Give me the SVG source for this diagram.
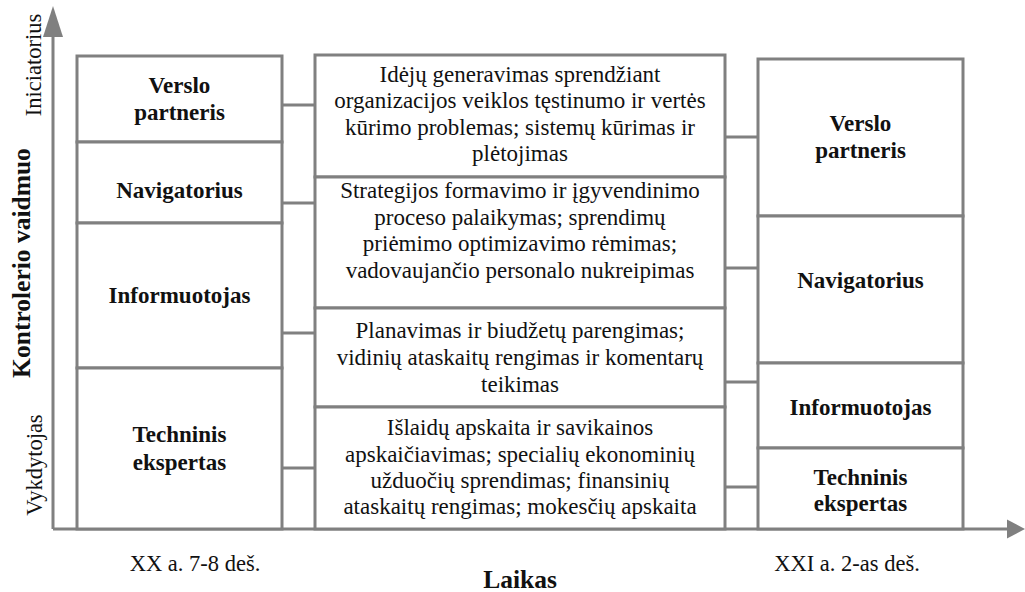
<svg xmlns="http://www.w3.org/2000/svg" width="1025" height="592" viewBox="0 0 1025 592">
  <style>
    .cell { fill: #ffffff; stroke: #808080; stroke-width: 3; }
    .link { stroke: #808080; stroke-width: 3; fill: none; }
    .axis { stroke: #808080; stroke-width: 3; fill: none; }
    .head { fill: #808080; stroke: none; }
    .role { font-family: "Liberation Serif", "Times New Roman", serif; font-size: 23px; font-weight: bold; fill: #111; text-anchor: middle; }
    .desc { font-family: "Liberation Serif", "Times New Roman", serif; font-size: 23px; fill: #111; text-anchor: middle; }
    .lab { font-family: "Liberation Serif", "Times New Roman", serif; font-size: 22.5px; fill: #111; text-anchor: middle; }
    .title { font-family: "Liberation Serif", "Times New Roman", serif; font-size: 25.5px; font-weight: bold; fill: #111; text-anchor: middle; }
  </style>

  <!-- axes -->
  <g id="axes">
    <line class="axis" x1="53" y1="529" x2="53" y2="34"/>
    <polygon class="head" points="53,6 43,37 63,37"/>
    <line class="axis" x1="53" y1="529" x2="1009" y2="529"/>
    <polygon class="head" points="1025,529 1007,519.5 1007,538.5"/>
  </g>

  <!-- connectors between columns -->
  <g id="connectors">
    <line class="link" x1="282" y1="105" x2="315" y2="105"/>
    <line class="link" x1="282" y1="203" x2="315" y2="203"/>
    <line class="link" x1="282" y1="333" x2="315" y2="333"/>
    <line class="link" x1="282" y1="468" x2="315" y2="468"/>
    <line class="link" x1="725" y1="137" x2="758" y2="137"/>
    <line class="link" x1="725" y1="268" x2="758" y2="268"/>
    <line class="link" x1="725" y1="382" x2="758" y2="382"/>
    <line class="link" x1="725" y1="487" x2="758" y2="487"/>
  </g>

  <!-- left column: XX a. 7-8 deš. -->
  <g id="left-verslo-partneris">
    <rect class="cell" x="77" y="56" width="205" height="86"/>
    <text class="role" x="179.5" y="93">Verslo</text>
    <text class="role" x="179.5" y="120">partneris</text>
  </g>
  <g id="left-navigatorius">
    <rect class="cell" x="77" y="142" width="205" height="81"/>
    <text class="role" x="179.5" y="198">Navigatorius</text>
  </g>
  <g id="left-informuotojas">
    <rect class="cell" x="77" y="223" width="205" height="145"/>
    <text class="role" x="179.5" y="303">Informuotojas</text>
  </g>
  <g id="left-techninis-ekspertas">
    <rect class="cell" x="77" y="368" width="205" height="161"/>
    <text class="role" x="179.5" y="442">Techninis</text>
    <text class="role" x="179.5" y="470">ekspertas</text>
  </g>

  <!-- middle column: functions -->
  <g id="func-ideju-generavimas">
    <rect class="cell" x="315" y="55" width="410" height="122"/>
    <text class="desc" x="520" y="82">Idėjų generavimas sprendžiant</text>
    <text class="desc" x="520" y="108">organizacijos veiklos tęstinumo ir vertės</text>
    <text class="desc" x="520" y="135">kūrimo problemas; sistemų kūrimas ir</text>
    <text class="desc" x="520" y="161">plėtojimas</text>
  </g>
  <g id="func-strategijos">
    <rect class="cell" x="315" y="177" width="410" height="131"/>
    <text class="desc" x="520" y="198">Strategijos formavimo ir įgyvendinimo</text>
    <text class="desc" x="520" y="225">proceso palaikymas; sprendimų</text>
    <text class="desc" x="520" y="251">priėmimo optimizavimo rėmimas;</text>
    <text class="desc" x="520" y="278">vadovaujančio personalo nukreipimas</text>
  </g>
  <g id="func-planavimas">
    <rect class="cell" x="315" y="308" width="410" height="99"/>
    <text class="desc" x="520" y="338">Planavimas ir biudžetų parengimas;</text>
    <text class="desc" x="520" y="365">vidinių ataskaitų rengimas ir komentarų</text>
    <text class="desc" x="520" y="392">teikimas</text>
  </g>
  <g id="func-islaidu-apskaita">
    <rect class="cell" x="315" y="407" width="410" height="122"/>
    <text class="desc" x="520" y="435">Išlaidų apskaita ir savikainos</text>
    <text class="desc" x="520" y="462">apskaičiavimas; specialių ekonominių</text>
    <text class="desc" x="520" y="488">užduočių sprendimas; finansinių</text>
    <text class="desc" x="520" y="514">ataskaitų rengimas; mokesčių apskaita</text>
  </g>

  <!-- right column: XXI a. 2-as deš. -->
  <g id="right-verslo-partneris">
    <rect class="cell" x="758" y="59" width="205" height="157"/>
    <text class="role" x="860.5" y="131">Verslo</text>
    <text class="role" x="860.5" y="158">partneris</text>
  </g>
  <g id="right-navigatorius">
    <rect class="cell" x="758" y="216" width="205" height="147"/>
    <text class="role" x="860.5" y="288">Navigatorius</text>
  </g>
  <g id="right-informuotojas">
    <rect class="cell" x="758" y="363" width="205" height="85"/>
    <text class="role" x="860.5" y="415">Informuotojas</text>
  </g>
  <g id="right-techninis-ekspertas">
    <rect class="cell" x="758" y="448" width="205" height="81"/>
    <text class="role" x="860.5" y="485">Techninis</text>
    <text class="role" x="860.5" y="511">ekspertas</text>
  </g>

  <!-- axis labels -->
  <g id="labels">
    <text class="lab" transform="translate(41,65) rotate(-90)">Iniciatorius</text>
    <text class="title" transform="translate(30,263) rotate(-90)">Kontrolerio vaidmuo</text>
    <text class="lab" transform="translate(42,465) rotate(-90)">Vykdytojas</text>
    <text class="lab" x="195" y="571">XX a. 7-8 deš.</text>
    <text class="lab" x="847" y="571">XXI a. 2-as deš.</text>
    <text class="title" x="520" y="588">Laikas</text>
  </g>
</svg>
